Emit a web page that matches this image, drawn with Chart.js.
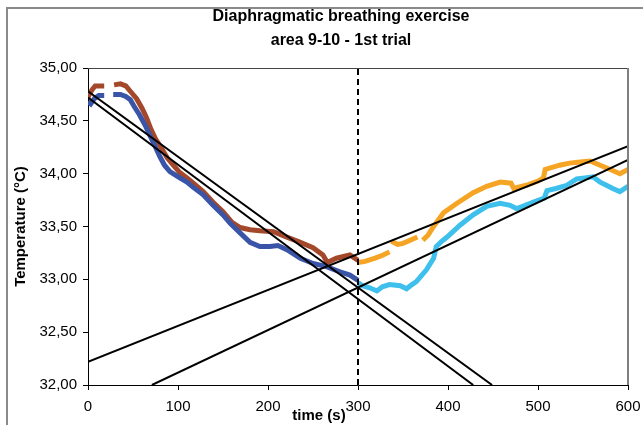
<!DOCTYPE html>
<html>
<head>
<meta charset="utf-8">
<script src="https://cdn.jsdelivr.net/npm/chart.js@4.4.1/dist/chart.umd.min.js"></script>
<style>
  html, body { margin: 0; padding: 0; background: #fff; }
  #wrap { width: 643px; height: 425px; }
</style>
</head>
<body>
<div id="wrap"><canvas id="tempChart" width="643" height="425"></canvas></div>
<script>
const titleLines = ['Diaphragmatic breathing exercise', 'area 9-10 - 1st trial'];
const xTitle = 'time (s)';
const yTitle = 'Temperature (°C)';
const xTicks = [0, 100, 200, 300, 400, 500, 600];
const yTicks = [32, 32.5, 33, 33.5, 34, 34.5, 35];

// first 300 s (dark blue / brown), null = gap in the recording
const blueTime = [0, 3, 7, 12, 18, 22, 28, 36, 42, 47, 51, 57, 64, 70, 75, 80, 85, 91, 102, 110, 117, 128, 139, 150, 158, 169, 180, 191, 202, 211, 221, 236, 250, 265, 280, 291, 300];
const blueTemp = [34.68, 34.66, 34.71, 34.74, 34.74, null, 34.75, 34.75, 34.73, 34.70, 34.64, 34.56, 34.45, 34.34, 34.25, 34.16, 34.08, 34.02, 33.96, 33.92, 33.87, 33.80, 33.70, 33.61, 33.53, 33.44, 33.35, 33.31, 33.31, 33.32, 33.28, 33.20, 33.15, 33.12, 33.07, 33.04, 32.99];

const brownTime = [0, 2, 5, 8, 18, 23, 29, 36, 42, 47, 54, 60, 65, 70, 75, 81, 88, 96, 102, 110, 117, 128, 139, 150, 160, 169, 180, 191, 206, 221, 236, 250, 261, 266, 276, 291, 300];
const brownTemp = [34.72, 34.76, 34.80, 34.83, 34.83, null, 34.84, 34.85, 34.83, 34.78, 34.71, 34.62, 34.53, 34.42, 34.33, 34.25, 34.15, 34.07, 34.01, 33.96, 33.91, 33.83, 33.73, 33.64, 33.54, 33.49, 33.47, 33.46, 33.45, 33.40, 33.35, 33.30, 33.23, 33.16, 33.20, 33.23, 33.18];

// second 300 s (orange / light blue)
const orangeTime = [300, 308, 319, 328, 335, 336, 337, 344, 350, 358, 366, 370, 372, 378, 384, 395, 410, 428, 443, 458, 470, 473, 487, 500, 506, 508, 524, 535, 547, 558, 569, 583, 591, 600];
const orangeTemp = [33.16, 33.17, 33.20, 33.23, 33.26, null, 33.36, 33.33, 33.34, 33.37, 33.40, null, 33.37, 33.42, 33.50, 33.63, 33.72, 33.82, 33.88, 33.92, 33.91, 33.86, 33.89, 33.93, 33.96, 34.04, 34.08, 34.10, 34.11, 34.12, 34.08, 34.03, 34.00, 34.04];

const skyTime = [300, 305, 313, 321, 327, 335, 347, 354, 360, 365, 371, 376, 384, 387, 393, 399, 413, 428, 443, 458, 469, 476, 483, 495, 507, 510, 520, 532, 543, 552, 561, 569, 576, 583, 591, 600];
const skyTemp = [32.97, 32.94, 32.92, 32.89, 32.93, 32.95, 32.94, 32.91, 32.95, 32.98, 33.04, 33.09, 33.20, 33.31, 33.36, 33.40, 33.51, 33.61, 33.69, 33.72, 33.70, 33.67, 33.69, 33.73, 33.77, 33.84, 33.86, 33.89, 33.95, 33.96, 33.97, 33.92, 33.89, 33.86, 33.83, 33.88];

// linear fits (end points)
const fitDownAX = [0, 449];
const fitDownAY = [34.78, 32.0];
const fitDownBX = [0, 428];
const fitDownBY = [34.72, 32.0];
const fitUpCX = [0, 600];
const fitUpCY = [32.22, 34.26];
const fitUpDX = [71, 600];
const fitUpDY = [32.0, 34.13];

// start of second phase
const markerX = [300, 300];
const markerY = [32, 35];

function pts(xs, ys) {
    return xs.map((x, i) => ({ x: x, y: ys[i] }));
}

function series(xs, ys, color) {
    return {
        data: pts(xs, ys),
        borderColor: color,
        borderWidth: 5,
        pointRadius: 0,
        tension: 0,
        spanGaps: false,
        order: 2
    };
}

function fit(xs, ys) {
    return {
        data: pts(xs, ys),
        borderColor: '#000',
        borderWidth: 2,
        pointRadius: 0,
        order: 1
    };
}

const FONT = 'Arial, "Liberation Sans", sans-serif';

const decorations = {
    id: 'decorations',
    afterDraw(chart) {
        const ctx = chart.ctx;
        const a = chart.chartArea;
        ctx.save();
        // outer frame
        ctx.strokeStyle = '#8a8a8a';
        ctx.lineWidth = 2;
        ctx.strokeRect(7, 8, 700, 500);
        // plot area top / right border
        ctx.strokeStyle = '#444';
        ctx.lineWidth = 1;
        ctx.beginPath();
        ctx.moveTo(a.left, a.top + 0.5);
        ctx.lineTo(a.right, a.top + 0.5);
        ctx.stroke();
        ctx.strokeStyle = '#808080';
        ctx.lineWidth = 2;
        ctx.beginPath();
        ctx.moveTo(a.right, a.top);
        ctx.lineTo(a.right, a.bottom);
        ctx.stroke();
        // titles
        ctx.fillStyle = '#000';
        ctx.textAlign = 'center';
        ctx.textBaseline = 'middle';
        ctx.font = 'bold 16px ' + FONT;
        ctx.fillText(titleLines[0], 341, 17);
        ctx.fillText(titleLines[1], 341, 41);
        ctx.font = 'bold 15px ' + FONT;
        ctx.fillText(xTitle, 319, 416);
        ctx.restore();
    }
};

new Chart(document.getElementById('tempChart'), {
    type: 'line',
    data: {
        datasets: [
            series(blueTime, blueTemp, '#3a55a8'),
            series(brownTime, brownTemp, '#a3482b'),
            series(orangeTime, orangeTemp, '#f5a424'),
            series(skyTime, skyTemp, '#3ebfec'),
            fit(fitDownAX, fitDownAY),
            fit(fitDownBX, fitDownBY),
            fit(fitUpCX, fitUpCY),
            fit(fitUpDX, fitUpDY),
            {
                data: pts(markerX, markerY),
                borderColor: '#000',
                borderWidth: 2,
                borderDash: [6, 4],
                pointRadius: 0,
                order: 0
            }
        ]
    },
    options: {
        responsive: false,
        devicePixelRatio: 1,
        animation: false,
        layout: {
            padding: { left: 12, right: 15, top: 68, bottom: 0 }
        },
        scales: {
            x: {
                type: 'linear',
                min: 0,
                max: 600,
                afterBuildTicks: s => { s.ticks = xTicks.map(v => ({ value: v })); },
                afterFit: s => { s.height = 40; s.paddingRight = 0; },
                ticks: {
                    color: '#000',
                    font: { family: FONT, size: 15 },
                    padding: 8,
                    maxRotation: 0
                },
                grid: {
                    drawOnChartArea: false,
                    drawTicks: true,
                    tickLength: 5,
                    color: '#000'
                },
                border: { color: '#000', width: 1 }
            },
            y: {
                min: 32,
                max: 35,
                afterBuildTicks: s => { s.ticks = yTicks.map(v => ({ value: v })); },
                afterFit: s => { s.width = 76; },
                ticks: {
                    color: '#000',
                    font: { family: FONT, size: 15 },
                    padding: 6,
                    callback: v => v.toFixed(2).replace('.', ',')
                },
                grid: {
                    drawOnChartArea: false,
                    drawTicks: true,
                    tickLength: 5,
                    color: '#000'
                },
                border: { color: '#000', width: 1 },
                title: {
                    display: true,
                    text: yTitle,
                    color: '#000',
                    font: { family: FONT, size: 15, weight: 'bold' },
                    padding: { top: 0, bottom: 4 }
                }
            }
        },
        plugins: {
            legend: { display: false },
            tooltip: { enabled: false },
            title: { display: false }
        }
    },
    plugins: [decorations]
});
</script>
</body>
</html>
